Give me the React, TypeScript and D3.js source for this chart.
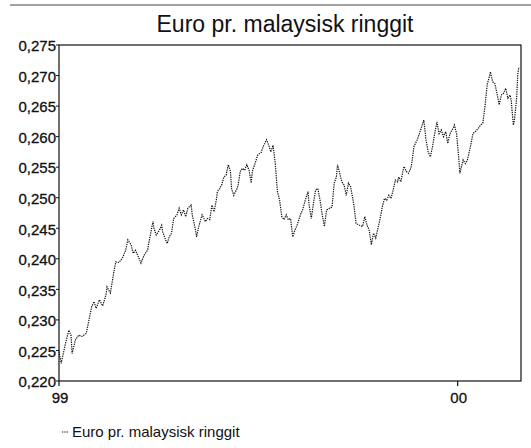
import React, { useEffect, useRef } from 'react';
import * as d3 from 'd3';

const title = 'Euro pr. malaysisk ringgit';
const seriesName = 'Euro pr. malaysisk ringgit';
const startDate = new Date(1999, 0, 1);
const endDate = new Date(2000, 1, 28);

// days after 1 Jan 1999
const days = [
  0, 2, 6, 9, 11, 12, 15, 18, 21, 25,
  28, 30, 32, 34, 37, 40, 43, 44, 47, 50,
  52, 55, 58, 61, 63, 66, 68, 70, 72, 75,
  78, 81, 84, 86, 87, 89, 92, 94, 95, 97,
  99, 101, 103, 105, 108, 110, 112, 114, 116, 118,
  121, 122, 125, 126, 128, 131, 134, 136, 138, 140,
  142, 144, 145, 147, 149, 151, 153, 155, 157, 158,
  160, 163, 164, 166, 168, 170, 172, 174, 176, 177,
  180, 182, 185, 187, 190, 192, 194, 196, 198, 200,
  202, 204, 206, 208, 210, 212, 214, 216, 218, 221,
  223, 226, 228, 229, 231, 233, 235, 237, 239, 241,
  243, 245, 248, 250, 252, 254, 255, 257, 259, 261,
  263, 265, 267, 270, 272, 275, 278, 280, 282, 284,
  286, 288, 290, 292, 294, 296, 298, 300, 302, 304,
  306, 308, 310, 311, 313, 315, 316, 318, 320, 322,
  323, 325, 328, 330, 332, 334, 336, 338, 340, 342,
  344, 346, 348, 350, 352, 354, 356, 358, 361, 362,
  364, 366, 367, 370, 372, 374, 377, 379, 381, 384,
  386, 388, 390, 392, 394, 395, 397, 399, 401, 403,
  405, 407, 409, 411, 413, 414, 416, 417, 419, 420,
  421
];

const rates = [
  0.2248, 0.2229, 0.2262, 0.2283, 0.2275, 0.2245, 0.2267, 0.2275, 0.2273, 0.2278,
  0.2305, 0.2322, 0.2330, 0.2319, 0.2333, 0.2323, 0.2341, 0.2354, 0.2344, 0.2376,
  0.2395, 0.2394, 0.2401, 0.2414, 0.2431, 0.2423, 0.2409, 0.2414, 0.2406, 0.2393,
  0.2406, 0.2414, 0.2442, 0.2461, 0.2450, 0.2439, 0.2447, 0.2455, 0.2444, 0.2434,
  0.2425, 0.2436, 0.2442, 0.2466, 0.2472, 0.2483, 0.2472, 0.2480, 0.2469, 0.2483,
  0.2488, 0.2472, 0.2447, 0.2436, 0.2453, 0.2472, 0.2461, 0.2466, 0.2464, 0.2488,
  0.2477, 0.2496, 0.2510, 0.2515, 0.2521, 0.2534, 0.2537, 0.2554, 0.2543, 0.2515,
  0.2504, 0.2515, 0.2521, 0.2543, 0.2548, 0.2545, 0.2554, 0.2545, 0.2524, 0.2543,
  0.2559, 0.2570, 0.2574, 0.2584, 0.2595, 0.2586, 0.2575, 0.2586, 0.2556, 0.2510,
  0.2496, 0.2469, 0.2464, 0.2472, 0.2464, 0.2466, 0.2436, 0.2447, 0.2455, 0.2472,
  0.2480, 0.2499, 0.2510, 0.2488, 0.2466, 0.2491, 0.2513, 0.2515, 0.2496, 0.2472,
  0.2453, 0.2480, 0.2483, 0.2485, 0.2524, 0.2534, 0.2554, 0.2540, 0.2526, 0.2521,
  0.2504, 0.2524, 0.2518, 0.2488, 0.2458, 0.2455, 0.2453, 0.2469, 0.2455, 0.2447,
  0.2423, 0.2442, 0.2434, 0.2450, 0.2466, 0.2485, 0.2499, 0.2496, 0.2504, 0.2499,
  0.2513, 0.2529, 0.2526, 0.2534, 0.2526, 0.2545, 0.2551, 0.2543, 0.2540, 0.2548,
  0.2556, 0.2584, 0.2595, 0.2605, 0.2616, 0.2627, 0.2595, 0.2575, 0.2567, 0.2584,
  0.2605, 0.2624, 0.2605, 0.2611, 0.2600, 0.2608, 0.2589, 0.2605, 0.2614, 0.2619,
  0.2605, 0.2565, 0.2540, 0.2562, 0.2556, 0.2562, 0.2586, 0.2605, 0.2608, 0.2614,
  0.2619, 0.2622, 0.2649, 0.2685, 0.2698, 0.2706, 0.2690, 0.2687, 0.2671, 0.2652,
  0.2668, 0.2671, 0.2679, 0.2663, 0.2668, 0.2660, 0.2619, 0.2627, 0.2663, 0.2701,
  0.2714
];

const yTicks = [0.22, 0.225, 0.23, 0.235, 0.24, 0.245, 0.25, 0.255, 0.26, 0.265, 0.27, 0.275];
const xTicks = [new Date(1999, 0, 1), new Date(2000, 0, 1)];
const xTickLabels = ['99', '00'];

const width = 531;
const height = 448;
const font = '"Liberation Sans", Arial, sans-serif';

function drawChart(el: SVGSVGElement) {
  const svg = d3.select(el);
  svg.selectAll('*').remove();

  const left = 59, right = 521, top = 45, bottom = 381;

  const x = d3.scaleTime().domain([startDate, endDate]).range([left, right]);
  const y = d3.scaleLinear().domain([0.22, 0.275]).range([bottom, top]);

  const data = days.map((d, i) => ({ date: d3.timeDay.offset(startDate, d), value: rates[i] }));

  // page edge line from the scan
  svg.append('line')
    .attr('x1', 10).attr('x2', width).attr('y1', 5).attr('y2', 5)
    .attr('stroke', '#444').attr('stroke-width', 1);

  svg.append('text')
    .attr('x', 285).attr('y', 31.5)
    .attr('text-anchor', 'middle')
    .attr('font-family', font)
    .attr('font-size', 23)
    .attr('fill', '#111')
    .text(title);

  // frame
  svg.append('rect')
    .attr('x', left).attr('y', top)
    .attr('width', right - left).attr('height', bottom - top)
    .attr('fill', 'none').attr('stroke', '#111').attr('stroke-width', 1.2);

  const yAxis = svg.append('g').attr('font-family', font).attr('font-size', 15);
  yAxis.selectAll('line')
    .data(yTicks)
    .join('line')
      .attr('x1', left - 3).attr('x2', left)
      .attr('y1', d => y(d)).attr('y2', d => y(d))
      .attr('stroke', '#111');
  yAxis.selectAll('text')
    .data(yTicks)
    .join('text')
      .attr('x', left - 3)
      .attr('y', d => y(d))
      .attr('dy', '0.42em')
      .attr('text-anchor', 'end')
      .attr('fill', '#111')
      .attr('stroke', '#111').attr('stroke-width', 0.3)
      .text(d => d3.format('.3f')(d).replace('.', ','));

  const xAxis = svg.append('g').attr('font-family', font).attr('font-size', 15);
  xAxis.selectAll('line')
    .data(xTicks)
    .join('line')
      .attr('x1', d => x(d)).attr('x2', d => x(d))
      .attr('y1', bottom).attr('y2', bottom + 5)
      .attr('stroke', '#111').attr('stroke-width', 1.2);
  xAxis.selectAll('text')
    .data(xTicks)
    .join('text')
      .attr('x', d => x(d) + 1)
      .attr('y', bottom + 22)
      .attr('text-anchor', 'middle')
      .attr('fill', '#111')
      .attr('stroke', '#111').attr('stroke-width', 0.3)
      .text((d, i) => xTickLabels[i]);

  const line = d3.line<{ date: Date, value: number }>()
    .x(d => x(d.date))
    .y(d => y(d.value));

  svg.append('path')
    .datum(data)
    .attr('d', line)
    .attr('fill', 'none')
    .attr('stroke', '#111')
    .attr('stroke-width', 1.2)
    .attr('stroke-dasharray', '1.3 1');

  // legend
  const legend = svg.append('g').attr('transform', 'translate(62,432)');
  legend.append('line')
    .attr('x1', 0).attr('x2', 7).attr('y1', 0).attr('y2', 0)
    .attr('stroke', '#111').attr('stroke-width', 1.2)
    .attr('stroke-dasharray', '1.3 1');
  legend.append('text')
    .attr('x', 10).attr('y', 0).attr('dy', '0.36em')
    .attr('font-family', font).attr('font-size', 15)
    .attr('fill', '#111')
    .text(seriesName);
}

export default function App() {
  const ref = useRef<SVGSVGElement>(null);

  useEffect(() => {
    if (ref.current) drawChart(ref.current);
  }, []);

  return (
    <svg
      ref={ref}
      width={width}
      height={height}
      style={{ position: 'absolute', left: 0, top: 0, background: '#fff' }}
    />
  );
}
